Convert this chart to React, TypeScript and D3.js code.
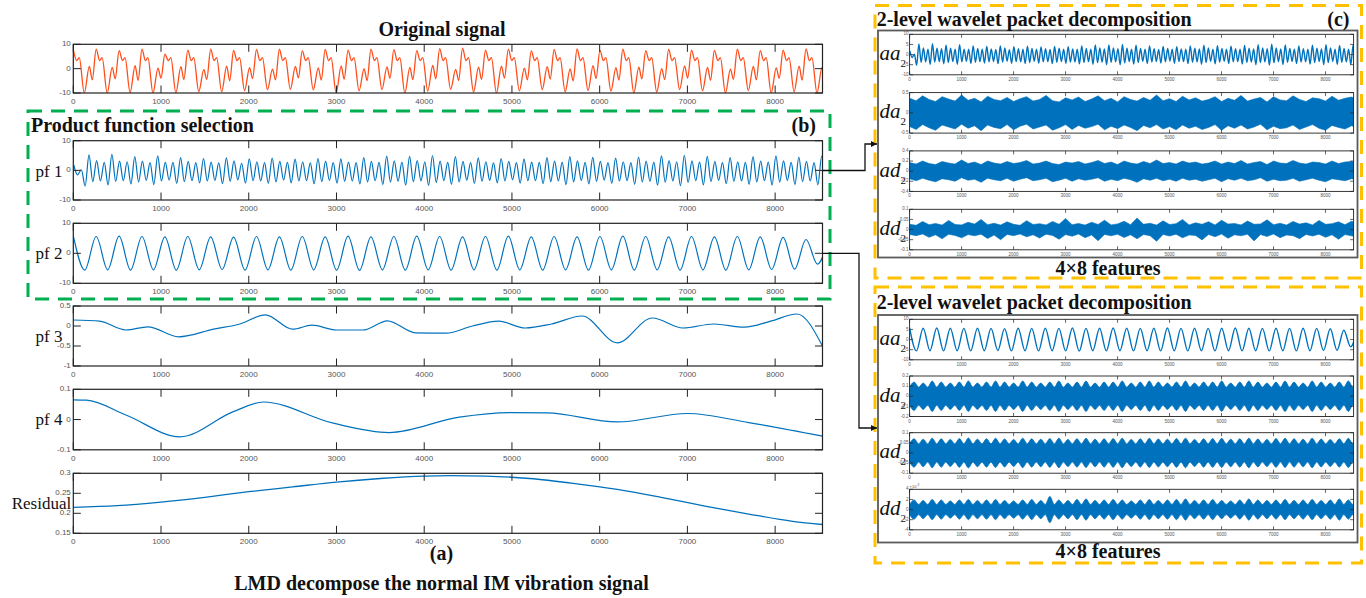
import { useEffect, useRef } from 'react'
import * as d3 from 'd3'

// ---- data ----
const X_MAX = 8540
const xTickValues = [0, 1000, 2000, 3000, 4000, 5000, 6000, 7000, 8000]

// original signal: one entry per fundamental cycle (period ~261 samples)
const ORIG_PERIOD = 261
const origPeaks = [7.8, 8.0, 7.4, 8.0, 6.0, 7.6, 8.0, 7.5, 7.9, 8.0, 7.3, 7.9, 7.6, 8.0, 7.8, 7.4, 8.2, 8.4, 7.6, 8.0, 7.3, 7.9, 8.1, 7.5, 8.0, 7.4, 7.9, 7.6, 7.5, 8.0, 7.4, 7.6, 8.1]
const origTroughs = [-10, -10, -9.8, -10, -9.9, -9.4, -9.5, -9.0, -8.6, -8.5, -8.7, -10, -9.1, -8.6, -10, -9.2, -8.5, -9.6, -10, -9.1, -8.6, -9.5, -9.0, -9.2, -10, -9.6, -8.6, -9.1, -10, -9.0, -10, -9.5, -10]
const origKnee = [0.9, 0.5, 1.2, 0.2, 0.8, -0.4, 1.0, 0.4, -0.2, 0.9, 0.3, 1.1, 0.0, 0.7, 0.5, 1.3, -0.3, 0.6, 1.0, 0.2, 0.8, -0.1, 1.2, 0.4, 0.6, 0.0, 1.1, 0.5, -0.2, 0.9, 0.3, 1.0, 0.5]
const origNotch = [-4.6, -4.2, -4.8, -3.9, -4.5, -4.4, -5.0, -4.1, -4.6, -3.8, -4.7, -4.3, -4.9, -4.0, -4.5, -4.2, -4.8, -4.4, -3.9, -4.6, -4.3, -5.0, -4.1, -4.7, -4.2, -4.5, -3.9, -4.8, -4.4, -4.6, -4.0, -4.7, -4.3]
const ORIG_DIP = 3.3
const ORIG_BUMP = 4.5

// pf 1: extrema every ~87 samples
const PF1_PERIOD = 87
const pf1Peaks = [1.8, 0.2, 5.2, 3.3, 2.7, 5.4, 3.1, 2.9, 4.6, 3.1, 2.6, 4.9, 2.7, 2.7, 4.3, 3.0, 2.6, 4.0, 2.8, 2.5, 4.2, 3.2, 2.4, 3.9, 2.9, 2.6, 4.1, 3.0, 2.7, 3.8, 2.9, 2.5, 4.0, 3.1, 2.6, 3.9, 2.8, 2.6, 4.3, 3.0, 2.7, 4.8, 3.2, 2.8, 4.7, 3.3, 2.9, 5.0, 3.1, 2.7, 4.6, 3.0, 2.6, 4.2, 2.9, 2.5, 4.0, 3.0, 2.6, 3.9, 2.8, 2.7, 4.3, 3.1, 2.8, 4.6, 3.2, 2.7, 4.4, 3.0, 2.6, 4.1, 2.9, 2.6, 4.5, 3.1, 2.8, 4.9, 3.3, 2.9, 5.1, 3.2, 2.8, 4.7, 3.0, 2.6, 4.3, 2.9, 2.7, 4.6, 3.1, 2.8, 4.9, 3.2, 2.7, 4.5, 3.0, 2.6, 4.8]
const pf1Troughs = [-1.5, -5.3, -3.8, -3.6, -4.9, -3.7, -3.5, -4.6, -3.9, -3.4, -4.8, -3.6, -3.3, -4.4, -3.8, -3.5, -4.2, -3.6, -3.4, -4.5, -3.7, -3.2, -4.3, -3.5, -3.6, -4.4, -3.9, -3.3, -4.2, -3.6, -3.5, -4.5, -3.8, -3.4, -4.3, -3.7, -3.6, -4.6, -3.9, -3.5, -4.8, -4.0, -3.7, -5.0, -3.8, -3.6, -5.1, -4.1, -3.5, -4.7, -3.9, -3.3, -4.4, -3.7, -3.4, -4.2, -3.6, -3.2, -4.3, -3.5, -3.5, -4.5, -3.8, -3.6, -4.8, -3.9, -3.4, -4.6, -3.7, -3.3, -4.4, -3.6, -3.5, -4.7, -3.9, -3.7, -5.0, -4.0, -3.6, -5.2, -4.1, -3.5, -4.9, -3.8, -3.4, -4.5, -3.7, -3.6, -4.7, -3.9, -3.5, -5.0, -4.0, -3.4, -4.8, -3.8, -3.6, -4.9, -4.5]

// pf 2: near-sinusoid, one peak/trough per fundamental cycle
const pf2Peaks = [5.8, 5.6, 5.7, 5.6, 5.5, 5.6, 5.5, 5.4, 5.6, 5.5, 5.6, 5.5, 5.7, 5.5, 5.6, 5.7, 5.6, 5.5, 5.6, 5.7, 5.5, 5.6, 5.5, 5.6, 5.7, 5.6, 5.5, 5.6, 5.5, 5.6, 5.5, 5.3, 4.6, 5.4]
const pf2Troughs = [-5.6, -5.5, -5.6, -5.5, -5.6, -5.5, -5.4, -5.6, -5.5, -5.6, -5.5, -5.6, -5.7, -5.5, -5.6, -5.5, -5.6, -5.5, -5.6, -5.5, -5.6, -5.5, -5.6, -5.5, -5.6, -5.5, -5.6, -5.5, -5.6, -5.5, -5.4, -5.3, -3.6]

// pf 3, pf 4, residual
const pf3X = [0, 300, 600, 850, 1200, 1600, 1900, 2190, 2500, 2720, 3000, 3300, 3580, 3900, 4250, 4550, 4850, 5150, 5450, 5800, 6200, 6600, 6950, 7300, 7650, 7950, 8250, 8540]
const pf3Y = [0.15, 0.12, -0.1, -0.02, -0.27, -0.08, 0.05, 0.28, -0.08, 0.02, -0.1, -0.1, 0.13, -0.17, -0.18, 0.0, 0.12, -0.05, 0.05, 0.25, -0.42, 0.2, -0.05, 0.05, -0.03, 0.12, 0.3, -0.5]
const pf4X = [0, 150, 600, 1216, 1824, 2166, 2963, 3600, 4400, 5000, 5400, 6200, 7000, 7700, 8540]
const pf4Y = [0.065, 0.064, 0.015, -0.057, 0.026, 0.058, -0.012, -0.043, 0.008, 0.023, 0.022, -0.008, 0.02, -0.01, -0.055]
const resX = [0, 500, 1000, 1500, 2000, 2500, 3000, 3500, 4000, 4300, 4700, 5200, 5700, 6200, 6700, 7200, 7700, 8200, 8540]
const resY = [0.215, 0.219, 0.228, 0.24, 0.254, 0.266, 0.278, 0.287, 0.293, 0.294, 0.293, 0.287, 0.275, 0.26, 0.24, 0.218, 0.198, 0.18, 0.172]

// wavelet packet of pf 1: noise-band envelopes every 125 samples
const ENV_STEP = 125
const da2aUpper = [0.36, 0.30, 0.42, 0.33, 0.28, 0.40, 0.34, 0.29, 0.44, 0.31, 0.36, 0.27, 0.41, 0.33, 0.30, 0.38, 0.28, 0.35, 0.40, 0.29, 0.33, 0.43, 0.30, 0.27, 0.37, 0.32, 0.39, 0.28, 0.34, 0.42, 0.30, 0.36, 0.27, 0.40, 0.33, 0.29, 0.38, 0.31, 0.44, 0.30, 0.35, 0.28, 0.41, 0.32, 0.37, 0.29, 0.33, 0.40, 0.28, 0.36, 0.31, 0.43, 0.29, 0.34, 0.38, 0.27, 0.40, 0.32, 0.30, 0.42, 0.33, 0.28, 0.37, 0.35, 0.29, 0.41, 0.31, 0.36, 0.39, 0.33]
const da2aLower = [-0.34, -0.41, -0.29, -0.37, -0.43, -0.30, -0.35, -0.40, -0.28, -0.38, -0.32, -0.44, -0.30, -0.36, -0.39, -0.29, -0.42, -0.33, -0.28, -0.40, -0.35, -0.30, -0.43, -0.37, -0.29, -0.41, -0.31, -0.38, -0.34, -0.28, -0.42, -0.33, -0.39, -0.30, -0.36, -0.44, -0.31, -0.37, -0.29, -0.40, -0.34, -0.42, -0.30, -0.38, -0.33, -0.41, -0.36, -0.29, -0.43, -0.32, -0.38, -0.30, -0.40, -0.35, -0.28, -0.42, -0.33, -0.39, -0.37, -0.30, -0.41, -0.35, -0.29, -0.38, -0.43, -0.31, -0.36, -0.40, -0.32, -0.37]
const ad2aUpper = [0.17, 0.14, 0.20, 0.15, 0.13, 0.19, 0.16, 0.14, 0.22, 0.15, 0.18, 0.13, 0.20, 0.16, 0.14, 0.19, 0.15, 0.17, 0.21, 0.14, 0.16, 0.20, 0.15, 0.13, 0.18, 0.16, 0.19, 0.14, 0.17, 0.21, 0.15, 0.18, 0.13, 0.20, 0.16, 0.14, 0.19, 0.15, 0.22, 0.15, 0.17, 0.14, 0.20, 0.16, 0.18, 0.14, 0.16, 0.20, 0.14, 0.18, 0.15, 0.21, 0.14, 0.17, 0.19, 0.13, 0.20, 0.16, 0.15, 0.21, 0.16, 0.14, 0.18, 0.17, 0.14, 0.20, 0.15, 0.18, 0.19, 0.16]
const ad2aLower = [-0.15, -0.19, -0.14, -0.18, -0.21, -0.15, -0.17, -0.20, -0.13, -0.18, -0.16, -0.22, -0.14, -0.17, -0.19, -0.14, -0.20, -0.16, -0.13, -0.19, -0.17, -0.14, -0.21, -0.18, -0.14, -0.20, -0.15, -0.18, -0.16, -0.13, -0.20, -0.16, -0.19, -0.14, -0.17, -0.22, -0.15, -0.18, -0.14, -0.19, -0.16, -0.20, -0.14, -0.18, -0.16, -0.20, -0.17, -0.14, -0.21, -0.15, -0.18, -0.14, -0.19, -0.17, -0.13, -0.20, -0.16, -0.19, -0.18, -0.14, -0.20, -0.17, -0.14, -0.18, -0.21, -0.15, -0.17, -0.19, -0.15, -0.18]
const dd2aUpper = [0.026, 0.021, 0.04, 0.024, 0.03, 0.022, 0.045, 0.025, 0.023, 0.036, 0.027, 0.05, 0.024, 0.031, 0.022, 0.038, 0.026, 0.021, 0.044, 0.025, 0.029, 0.023, 0.04, 0.026, 0.055, 0.024, 0.03, 0.022, 0.036, 0.025, 0.046, 0.023, 0.028, 0.041, 0.024, 0.057, 0.026, 0.031, 0.022, 0.043, 0.025, 0.029, 0.05, 0.023, 0.033, 0.026, 0.039, 0.022, 0.046, 0.027, 0.03, 0.023, 0.042, 0.026, 0.028, 0.048, 0.024, 0.031, 0.022, 0.04, 0.027, 0.033, 0.023, 0.045, 0.026, 0.029, 0.038, 0.024, 0.041, 0.028]
const dd2aLower = [-0.024, -0.03, -0.022, -0.038, -0.026, -0.046, -0.023, -0.029, -0.041, -0.025, -0.031, -0.023, -0.044, -0.027, -0.05, -0.024, -0.03, -0.022, -0.036, -0.026, -0.042, -0.023, -0.029, -0.048, -0.025, -0.033, -0.022, -0.04, -0.027, -0.055, -0.024, -0.031, -0.023, -0.039, -0.026, -0.046, -0.025, -0.03, -0.058, -0.024, -0.032, -0.023, -0.041, -0.027, -0.029, -0.051, -0.024, -0.036, -0.022, -0.043, -0.026, -0.031, -0.023, -0.056, -0.025, -0.034, -0.022, -0.04, -0.027, -0.03, -0.045, -0.024, -0.032, -0.023, -0.038, -0.026, -0.048, -0.025, -0.031, -0.036]

// wavelet packet of pf 2: lobed bands, one lobe every ~174 samples
const LOBE_STEP = 174
const da2bLobes = [0.14, 0.13, 0.15, 0.14, 0.13, 0.14, 0.15, 0.13, 0.14, 0.15, 0.14, 0.13, 0.15, 0.14, 0.13, 0.14, 0.15, 0.13, 0.14, 0.15, 0.13, 0.14, 0.14, 0.15, 0.13, 0.14, 0.15, 0.14, 0.13, 0.14, 0.15, 0.13, 0.14, 0.14, 0.15, 0.13, 0.14, 0.15, 0.14, 0.13, 0.14, 0.15, 0.14, 0.13, 0.15, 0.14, 0.13, 0.14, 0.15, 0.14]
const DA2B_WAIST = 0.09
const ad2bLobes = [0.07, 0.068, 0.073, 0.07, 0.067, 0.071, 0.074, 0.068, 0.07, 0.072, 0.069, 0.067, 0.073, 0.07, 0.068, 0.071, 0.073, 0.067, 0.07, 0.072, 0.068, 0.07, 0.071, 0.073, 0.067, 0.07, 0.072, 0.069, 0.068, 0.071, 0.073, 0.067, 0.07, 0.071, 0.072, 0.068, 0.07, 0.073, 0.069, 0.067, 0.071, 0.072, 0.07, 0.068, 0.073, 0.069, 0.067, 0.07, 0.072, 0.07]
const AD2B_WAIST = 0.045
const dd2bLobes = [1.9, 1.8, 2.0, 1.9, 1.7, 1.9, 2.0, 1.8, 1.9, 2.0, 1.8, 1.7, 1.9, 2.0, 1.8, 2.6, 1.9, 1.8, 2.0, 2.1, 1.8, 1.9, 2.0, 1.9, 1.7, 1.9, 2.0, 1.8, 1.9, 2.0, 2.1, 1.8, 1.9, 2.0, 1.8, 1.7, 1.9, 2.1, 1.9, 1.8, 1.9, 2.0, 1.8, 1.9, 2.0, 1.8, 1.9, 2.1, 1.9, 1.8]
const DD2B_WAIST = 1.0

// ---- styling ----
const SERIF = "'Liberation Serif', 'Times New Roman', Times, serif"
const SANS = "'Liberation Sans', Arial, Helvetica, sans-serif"
const BLUE = '#0072BD'
const RED = '#FF4D1A'

type Pt = [number, number]

function originalPoints(): Pt[] {
  const P = ORIG_PERIOD
  const pts: Pt[] = []
  origPeaks.forEach((p, i) => {
    const b = i * P
    pts.push([b, p], [b + 0.15 * P, ORIG_DIP], [b + 0.26 * P, ORIG_BUMP], [b + 0.48 * P, origTroughs[i]], [b + 0.7 * P, origKnee[i]], [b + 0.83 * P, origNotch[i]])
  })
  return pts
}

function alternating(peaks: number[], troughs: number[], period: number, peakAt: number, troughAt: number): Pt[] {
  const pts: Pt[] = []
  const n = Math.max(peaks.length, troughs.length)
  for (let i = 0; i < n; i++) {
    if (i < peaks.length) pts.push([peakAt + i * period, peaks[i]])
    if (i < troughs.length) pts.push([troughAt + i * period, troughs[i]])
  }
  return pts
}

const zip = (xs: number[], ys: number[]): Pt[] => xs.map((x, i) => [x, ys[i]])

let clipId = 0

function panel(root: any, o: { x: number; y: number; w: number; h: number; yDomain: [number, number]; yTicks: number[]; small?: boolean }) {
  const small = !!o.small
  const tickLen = small ? 3.5 : 7.5
  const fs = small ? 4.5 : 8
  const g = root.append('g').attr('transform', `translate(${o.x},${o.y})`)
  const xs = d3.scaleLinear().domain([0, X_MAX]).range([0, o.w])
  const ys = d3.scaleLinear().domain(o.yDomain).range([o.h, 0])
  const id = `clip-${clipId++}`
  g.append('clipPath').attr('id', id).append('rect').attr('width', o.w).attr('height', o.h)
  const plot = g.append('g').attr('clip-path', `url(#${id})`)
  const axis = g.append('g').attr('stroke', '#222').attr('stroke-width', small ? 0.7 : 1)

  xTickValues.forEach((t) => {
    const px = xs(t)
    axis.append('line').attr('x1', px).attr('x2', px).attr('y1', 0).attr('y2', tickLen)
    axis.append('line').attr('x1', px).attr('x2', px).attr('y1', o.h).attr('y2', o.h - tickLen)
    g.append('text')
      .attr('x', px).attr('y', o.h + (small ? 6 : 11))
      .attr('text-anchor', 'middle').attr('fill', '#555')
      .attr('font-size', fs).attr('font-family', SANS)
      .text(t)
  })
  o.yTicks.forEach((t) => {
    const py = ys(t)
    axis.append('line').attr('x1', 0).attr('x2', tickLen).attr('y1', py).attr('y2', py)
    axis.append('line').attr('x1', o.w).attr('x2', o.w - tickLen).attr('y1', py).attr('y2', py)
    g.append('text')
      .attr('x', small ? -1.2 : -2.5).attr('y', py)
      .attr('text-anchor', 'end').attr('dominant-baseline', 'middle')
      .attr('fill', '#555').attr('font-size', fs).attr('font-family', SANS)
      .text(String(t))
  })
  axis.append('rect').attr('width', o.w).attr('height', o.h).attr('fill', 'none').attr('stroke-width', small ? 0.9 : 1.2)

  return { g, plot, xs, ys }
}

function drawLine(p: any, pts: Pt[], color: string, width: number) {
  const line = d3.line<Pt>().x((d) => p.xs(d[0])).y((d) => p.ys(d[1])).curve(d3.curveMonotoneX)
  p.plot.append('path').attr('d', line(pts)).attr('fill', 'none').attr('stroke', color).attr('stroke-width', width)
}

function drawBand(p: any, upper: number[], lower: number[], step: number) {
  const rows = upper.map((u, i) => ({ x: i * step, u, l: lower[i] }))
  const area = d3.area<any>().x((d) => p.xs(d.x)).y1((d) => p.ys(d.u)).y0((d) => p.ys(d.l))
  p.plot.append('path').attr('d', area(rows)).attr('fill', BLUE).attr('stroke', BLUE).attr('stroke-width', 0.6)
}

function drawLobes(p: any, lobes: number[], waist: number, step: number) {
  const rows: { x: number; v: number }[] = []
  lobes.forEach((v, i) => {
    rows.push({ x: i * step, v: waist })
    rows.push({ x: (i + 0.5) * step, v })
  })
  rows.push({ x: lobes.length * step, v: waist })
  const area = d3.area<any>().x((d) => p.xs(d.x)).y1((d) => p.ys(d.v)).y0((d) => p.ys(-d.v)).curve(d3.curveMonotoneX)
  p.plot.append('path').attr('d', area(rows)).attr('fill', BLUE).attr('stroke', BLUE).attr('stroke-width', 0.8)
  p.plot.append('line').attr('x1', 0).attr('x2', p.xs(X_MAX)).attr('y1', p.ys(0)).attr('y2', p.ys(0)).attr('stroke', BLUE).attr('stroke-width', 2)
}

function text(root: any, x: number, y: number, s: string, opts: { size: number; bold?: boolean; anchor?: string }) {
  return root.append('text')
    .attr('x', x).attr('y', y)
    .attr('text-anchor', opts.anchor || 'start')
    .attr('font-family', SERIF).attr('font-size', opts.size)
    .attr('font-weight', opts.bold ? 'bold' : 'normal')
    .attr('fill', '#111')
    .text(s)
}

function subLabel(root: any, x: number, y: number, base: string) {
  const t = root.append('text').attr('x', x).attr('y', y)
    .attr('font-family', SERIF).attr('font-size', 21).attr('font-style', 'italic').attr('fill', '#111')
  t.append('tspan').text(base)
  t.append('tspan').attr('font-size', 11).attr('font-style', 'normal').attr('dy', 7).text('2')
}

function draw(svg: any) {
  const defs = svg.append('defs')
  defs.append('marker').attr('id', 'arrow').attr('viewBox', '0 0 10 10').attr('refX', 10).attr('refY', 5)
    .attr('markerWidth', 7).attr('markerHeight', 6).attr('markerUnits', 'userSpaceOnUse').attr('orient', 'auto')
    .append('path').attr('d', 'M0,0 L10,5 L0,10 z').attr('fill', '#111')

  // ---- left column (a) ----
  const LX = 73.3
  const LW = 749.2
  const left = [
    { key: 'orig', y: 44.3, h: 48.7, yDomain: [-10, 10], yTicks: [-10, 0, 10] },
    { key: 'pf1', y: 140.7, h: 59.3, yDomain: [-10, 10], yTicks: [-10, 0, 10] },
    { key: 'pf2', y: 223.3, h: 60, yDomain: [-10, 10], yTicks: [-10, 0, 10] },
    { key: 'pf3', y: 306, h: 60, yDomain: [-1, 0.5], yTicks: [-1, -0.5, 0, 0.5] },
    { key: 'pf4', y: 389.3, h: 60.5, yDomain: [-0.1, 0.1], yTicks: [-0.1, 0, 0.1] },
    { key: 'res', y: 473.3, h: 60, yDomain: [0.15, 0.3], yTicks: [0.15, 0.2, 0.25, 0.3] },
  ]
  const lp: Record<string, any> = {}
  left.forEach((c) => {
    lp[c.key] = panel(svg, { x: LX, y: c.y, w: LW, h: c.h, yDomain: c.yDomain as [number, number], yTicks: c.yTicks })
  })
  drawLine(lp.orig, originalPoints(), RED, 1.3)
  drawLine(lp.pf1, alternating(pf1Peaks, pf1Troughs, PF1_PERIOD, 5, 48), BLUE, 1.2)
  drawLine(lp.pf2, alternating(pf2Peaks, pf2Troughs, ORIG_PERIOD, 0, ORIG_PERIOD / 2), BLUE, 1.2)
  drawLine(lp.pf3, zip(pf3X, pf3Y), BLUE, 1.2)
  drawLine(lp.pf4, zip(pf4X, pf4Y), BLUE, 1.2)
  drawLine(lp.res, zip(resX, resY), BLUE, 1.3)

  text(svg, 442, 36, 'Original signal', { size: 20, bold: true, anchor: 'middle' })
  text(svg, 31, 131.5, 'Product function selection', { size: 20, bold: true })
  text(svg, 816, 132, '(b)', { size: 20, bold: true, anchor: 'end' })
  text(svg, 35.5, 176.5, 'pf 1', { size: 17 })
  text(svg, 35.5, 259, 'pf 2', { size: 17 })
  text(svg, 35.5, 342, 'pf 3', { size: 17 })
  text(svg, 35.5, 425, 'pf 4', { size: 17 })
  text(svg, 11.7, 509.3, 'Residual', { size: 17 })
  text(svg, 441.5, 560, '(a)', { size: 20, bold: true, anchor: 'middle' })
  text(svg, 441.5, 590, 'LMD decompose the normal IM vibration signal', { size: 20, bold: true, anchor: 'middle' })

  svg.append('rect').attr('x', 28).attr('y', 111).attr('width', 802).attr('height', 188)
    .attr('fill', 'none').attr('stroke', '#00B050').attr('stroke-width', 3).attr('stroke-dasharray', '14 9')

  // ---- right column (c) ----
  const RX = 909.6
  const RW = 444
  const RH = 40.5
  const groups = [
    { top: 5.5, bottom: 278, title: 25.5, gray: [30.5, 257.5], feat: 275, tops: [34.3, 92.6, 150.9, 209.3] },
    { top: 287, bottom: 563, title: 309, gray: [315, 542.5], feat: 558.3, tops: [319.3, 376, 432.7, 489.3] },
  ]
  groups.forEach((gr) => {
    svg.append('rect').attr('x', 875).attr('y', gr.top).attr('width', 486.5).attr('height', gr.bottom - gr.top)
      .attr('fill', 'none').attr('stroke', '#FFC000').attr('stroke-width', 3).attr('stroke-dasharray', '14 9')
    svg.append('rect').attr('x', 878).attr('y', gr.gray[0]).attr('width', 479.5).attr('height', gr.gray[1] - gr.gray[0])
      .attr('fill', 'none').attr('stroke', '#5a5a5a').attr('stroke-width', 1.8)
    text(svg, 876.7, gr.title, '2-level wavelet packet decomposition', { size: 20, bold: true })
    text(svg, 1108, gr.feat, '4\u00D78 features', { size: 20, bold: true, anchor: 'middle' })
    ;['aa', 'da', 'ad', 'dd'].forEach((b, i) => subLabel(svg, 879.5, gr.tops[i] + RH / 2 + 5.5, b))
  })
  text(svg, 1349.5, 25.5, '(c)', { size: 20, bold: true, anchor: 'end' })

  const t1 = groups[0].tops
  const t2 = groups[1].tops
  const aa2a = panel(svg, { x: RX, y: t1[0], w: RW, h: RH, yDomain: [-10, 10], yTicks: [-10, -5, 0, 5, 10], small: true })
  drawLine(aa2a, alternating(pf1Peaks, pf1Troughs, PF1_PERIOD, 5, 48), BLUE, 1.4)
  const da2a = panel(svg, { x: RX, y: t1[1], w: RW, h: RH, yDomain: [-0.5, 0.5], yTicks: [-0.5, 0, 0.5], small: true })
  drawBand(da2a, da2aUpper, da2aLower, ENV_STEP)
  const ad2a = panel(svg, { x: RX, y: t1[2], w: RW, h: RH, yDomain: [-0.4, 0.4], yTicks: [-0.4, -0.2, 0, 0.2, 0.4], small: true })
  drawBand(ad2a, ad2aUpper, ad2aLower, ENV_STEP)
  const dd2a = panel(svg, { x: RX, y: t1[3], w: RW, h: RH, yDomain: [-0.1, 0.1], yTicks: [-0.1, -0.05, 0, 0.05, 0.1], small: true })
  drawBand(dd2a, dd2aUpper, dd2aLower, ENV_STEP)

  const aa2b = panel(svg, { x: RX, y: t2[0], w: RW, h: RH, yDomain: [-10, 10], yTicks: [-10, -5, 0, 5, 10], small: true })
  drawLine(aa2b, alternating(pf2Peaks, pf2Troughs, ORIG_PERIOD, 0, ORIG_PERIOD / 2), BLUE, 1.4)
  const da2b = panel(svg, { x: RX, y: t2[1], w: RW, h: RH, yDomain: [-0.2, 0.2], yTicks: [-0.2, -0.1, 0, 0.1, 0.2], small: true })
  drawLobes(da2b, da2bLobes, DA2B_WAIST, LOBE_STEP)
  const ad2b = panel(svg, { x: RX, y: t2[2], w: RW, h: RH, yDomain: [-0.1, 0.1], yTicks: [-0.1, -0.05, 0, 0.05, 0.1], small: true })
  drawLobes(ad2b, ad2bLobes, AD2B_WAIST, LOBE_STEP)
  const dd2b = panel(svg, { x: RX, y: t2[3], w: RW, h: RH, yDomain: [-4, 4], yTicks: [-4, -2, 0, 2, 4], small: true })
  drawLobes(dd2b, dd2bLobes, DD2B_WAIST, LOBE_STEP)
  const exp = dd2b.g.append('text').attr('x', 0).attr('y', -1.5).attr('font-size', 4).attr('font-family', SANS).attr('fill', '#555')
  exp.append('tspan').text('\u00D710')
  exp.append('tspan').attr('dy', -1.5).attr('font-size', 3).text('-3')

  // ---- connectors ----
  svg.append('path').attr('d', 'M822.5,170.5 H865 V144 H877').attr('fill', 'none').attr('stroke', '#111')
    .attr('stroke-width', 1.3).attr('marker-end', 'url(#arrow)')
  svg.append('path').attr('d', 'M822.5,253.3 H859 V428 H877').attr('fill', 'none').attr('stroke', '#111')
    .attr('stroke-width', 1.3).attr('marker-end', 'url(#arrow)')
}

export default function App() {
  const ref = useRef<SVGSVGElement>(null)

  useEffect(() => {
    if (!ref.current) return
    const svg = d3.select(ref.current)
    svg.selectAll('*').remove()
    clipId = 0
    draw(svg)
  }, [])

  return (
    <div style={{ position: 'absolute', left: 0, top: 0 }}>
      <svg ref={ref} width={1366} height={598} style={{ display: 'block', background: '#fff' }} />
    </div>
  )
}
